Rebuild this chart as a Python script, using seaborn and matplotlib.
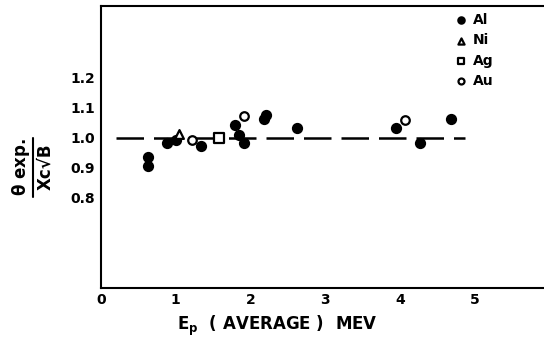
import matplotlib
matplotlib.use("Agg")
import matplotlib.pyplot as plt
from matplotlib.lines import Line2D
import seaborn as sns
import pandas as pd

# Data
al_x = [0.635, 0.635, 0.889, 1.005, 1.335, 1.79, 1.846, 1.909, 2.18, 2.203, 2.625, 3.94, 4.27, 4.68]
al_y = [0.937, 0.906, 0.983, 0.992, 0.972, 1.044, 1.008, 0.981, 1.063, 1.074, 1.031, 1.031, 0.981, 1.061]
ni_x = [1.05]
ni_y = [1.011]
ag_x = [1.58]
ag_y = [1.0]
au_x = [1.215, 1.917, 4.07]
au_y = [0.992, 1.072, 1.058]

ref_x = [0.21, 4.87]
ref_y = [1.0, 1.0]

xticks = [0, 1, 2, 3, 4, 5]
xticklabels = ["0", "1", "2", "3", "4", "5"]
yticks = [0.8, 0.9, 1.0, 1.1, 1.2]
yticklabels = ["0.8", "0.9", "1.0", "1.1", "1.2"]

sns.set_theme(style="white")
plt.rcParams['font.family'] = ['DejaVu Sans']
plt.rcParams['mathtext.fontset'] = 'dejavusans'
plt.rcParams['text.color'] = 'black'

W, H = 544, 341
fig = plt.figure(figsize=(W / 100, H / 100), dpi=100)
ax = fig.add_axes([100.7 / W, 1 - 287.7 / H, 1 - 100.7 / W, (287.7 - 5.7) / H])

ref = pd.DataFrame({"x": ref_x, "y": ref_y})
sns.lineplot(data=ref, x="x", y="y", ax=ax, color="black", lw=1.8,
             dashes=False, linestyle=(0, (11, 4)))

series = [
    ("Al", al_x, al_y, "o", "black", 42),
    ("Ni", ni_x, ni_y, "^", "white", 40),
    ("Ag", ag_x, ag_y, "s", "white", 50),
    ("Au", au_x, au_y, "o", "white", 38),
]
for name, xs, ys, mk, fc, s in series:
    df = pd.DataFrame({"x": xs, "y": ys})
    sns.scatterplot(data=df, x="x", y="y", ax=ax, marker=mk, s=s,
                    facecolor=fc, edgecolor="black", linewidth=1.6,
                    label=name, zorder=3)

ax.set_xlim(0, 5.92)
ax.set_ylim(0.5, 1.44)
ax.set_xticks(xticks)
ax.set_xticklabels(xticklabels)
ax.set_yticks(yticks)
ax.set_yticklabels(yticklabels)
ax.tick_params(axis="both", direction="in", length=5, width=1.3,
               labelsize=10, colors="black", pad=4)
for lab in ax.get_xticklabels() + ax.get_yticklabels():
    lab.set_fontweight("bold")

for side in ["left", "bottom", "top"]:
    ax.spines[side].set_visible(True)
    ax.spines[side].set_color("black")
    ax.spines[side].set_linewidth(1.5)
ax.spines["right"].set_visible(False)
ax.set_xlabel("")
ax.set_ylabel("")

# x-axis label
fig.text(177 / W, 1 - 330 / H, r"E$_\mathbf{p}$  ( AVERAGE )  MEV", fontsize=12,
         fontweight="bold", color="black", ha="left", va="baseline")

# y-axis label as a fraction
yc = 1 - 167 / H
fig.text(21 / W, yc, r"$\mathbf{\theta}$ exp.", rotation=90, fontsize=12,
         fontweight="bold", color="black", ha="center", va="center",
         rotation_mode="anchor")
fig.text(45 / W, yc, "Xc\u221aB", rotation=90, fontsize=12,
         fontweight="bold", color="black", ha="center", va="center",
         rotation_mode="anchor")
fig.add_artist(Line2D([33 / W, 33 / W], [1 - 138 / H, 1 - 197 / H],
                      transform=fig.transFigure, color="black", lw=1.5))

leg = ax.legend(loc="upper left", bbox_to_anchor=(0.77, 1.018), frameon=False,
                fontsize=10, handletextpad=0.3, labelspacing=0.45,
                markerscale=0.7, handlelength=1.0)
for t in leg.get_texts():
    t.set_fontweight("bold")
    t.set_color("black")

fig.savefig("out.png", dpi=100)
